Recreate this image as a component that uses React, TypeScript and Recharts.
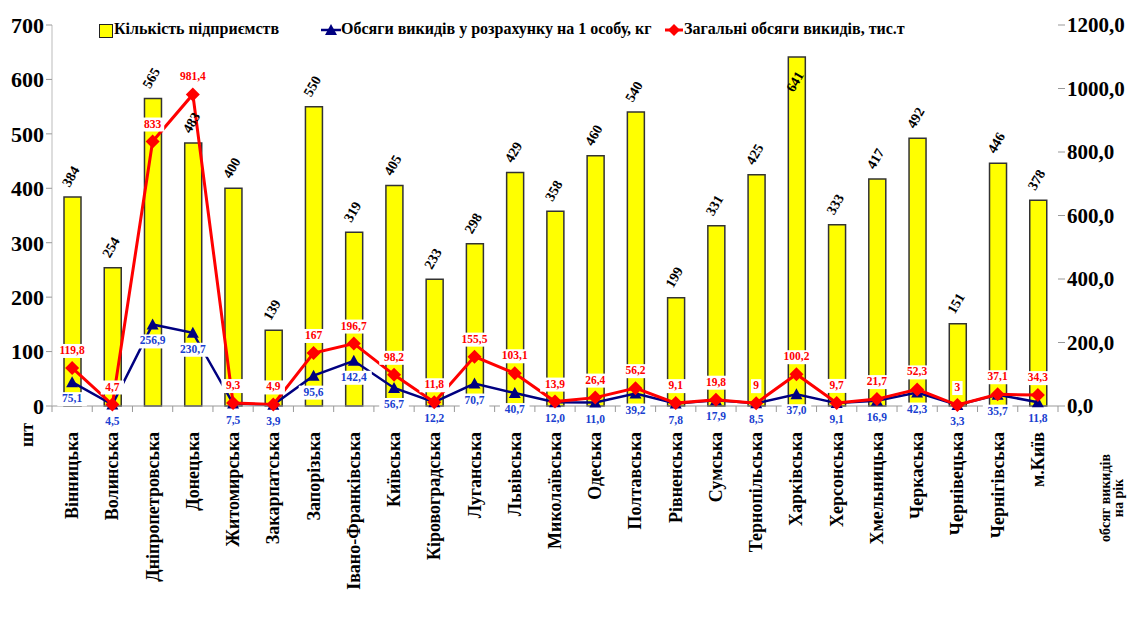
import React from 'react';
import { ComposedChart, Bar, Line, XAxis, YAxis, LabelList } from 'recharts';

const regions = [
  'Вінницька', 'Волинська', 'Дніпропетровська', 'Донецька', 'Житомирська',
  'Закарпатська', 'Запорізька', 'Івано-Франківська', 'Київська', 'Кіровоградська',
  'Луганська', 'Львівська', 'Миколаївська', 'Одеська', 'Полтавська',
  'Рівненська', 'Сумська', 'Тернопільська', 'Харківська', 'Херсонська',
  'Хмельницька', 'Черкаська', 'Чернівецька', 'Чернігівська', 'м.Київ',
];
const enterprises = [384, 254, 565, 483, 400, 139, 550, 319, 405, 233, 298, 429, 358, 460, 540, 199, 331, 425, 641, 333, 417, 492, 151, 446, 378];
const perCapita = [75.1, 4.5, 256.9, 230.7, 7.5, 3.9, 95.6, 142.4, 56.7, 12.2, 70.7, 40.7, 12.0, 11.0, 39.2, 7.8, 17.9, 8.5, 37.0, 9.1, 16.9, 42.3, 3.3, 35.7, 11.8];
const totalEmissions = [119.8, 4.7, 833, 981.4, 9.3, 4.9, 167, 196.7, 98.2, 11.8, 155.5, 103.1, 13.9, 26.4, 56.2, 9.1, 19.8, 9, 100.2, 9.7, 21.7, 52.3, 3, 37.1, 34.3];
const leftTicks = [0, 100, 200, 300, 400, 500, 600, 700];
const rightTicks = [0, 200, 400, 600, 800, 1000, 1200];

const data = regions.map((name, i) => ({
  name,
  enterprises: enterprises[i],
  perCapita: perCapita[i],
  total: totalEmissions[i],
}));

const FONT = '"Liberation Serif", "Times New Roman", serif';
const comma = (v: number) => String(v).replace('.', ',');
const BAND = (1058 - 52) / regions.length;

const Triangle = (props: any) => {
  const { cx, cy } = props;
  if (cx == null || cy == null) return null;
  return <polygon points={`${cx},${cy - 6} ${cx - 6},${cy + 5} ${cx + 6},${cy + 5}`} fill="#000080" />;
};

const Diamond = (props: any) => {
  const { cx, cy } = props;
  if (cx == null || cy == null) return null;
  return <polygon points={`${cx},${cy - 7} ${cx + 7},${cy} ${cx},${cy + 7} ${cx - 7},${cy}`} fill="#ff0000" />;
};

const boxLabel = (color: string, dy: number, fmt: (v: number) => string) => (props: any) => {
  const { x, y, value } = props;
  const txt = fmt(value);
  const w = txt.length * 6.4 + 4;
  return (
    <g>
      <rect x={x - w / 2} y={y + dy - 10} width={w} height={14} fill="#fff" />
      <text x={x} y={y + dy} textAnchor="middle" fill={color} fontSize={11.5} fontWeight="bold" fontFamily={FONT}>
        {txt}
      </text>
    </g>
  );
};

const BarLabel = (props: any) => {
  const { x, y, width, value } = props;
  const cx = x + width / 2;
  // the tallest bar's label sits inside the bar top, as in the original
  const ly = y < 70 ? y + 36 : y - 9;
  return (
    <text
      transform={`translate(${cx - 3},${ly}) rotate(-60)`}
      textAnchor="start"
      fontSize={14}
      fontWeight="bold"
      fontFamily={FONT}
      fill="#000"
    >
      {value}
    </text>
  );
};

const RegionTick = (props: any) => {
  const { x, payload, index } = props;
  const left = x - BAND / 2;
  return (
    <g>
      <line x1={left} y1={406} x2={left} y2={412} stroke="#999" />
      {index === regions.length - 1 && <line x1={left + BAND} y1={406} x2={left + BAND} y2={412} stroke="#999" />}
      <text
        transform={`translate(${x + 6},432) rotate(-90)`}
        textAnchor="end"
        fontSize={18}
        fontWeight="bold"
        fontFamily={FONT}
        fill="#000"
      >
        {payload.value}
      </text>
    </g>
  );
};

const legendText: React.CSSProperties = {
  position: 'absolute',
  top: 20,
  fontFamily: FONT,
  fontWeight: 'bold',
  fontSize: 16,
  color: '#000',
  whiteSpace: 'nowrap',
};

export default function App() {
  return (
    <div style={{ position: 'fixed', left: 0, top: 0, width: 1128, height: 619, background: '#fff' }}>
      <ComposedChart width={1128} height={619} data={data} margin={{ top: 25, right: 0, bottom: 0, left: 0 }}>
        <XAxis
          dataKey="name"
          interval={0}
          height={213}
          tick={<RegionTick />}
          tickLine={false}
          axisLine={{ stroke: '#999' }}
        />
        <YAxis
          yAxisId="left"
          domain={[0, 700]}
          ticks={leftTicks}
          width={52}
          axisLine={{ stroke: '#bbb' }}
          tickLine={{ stroke: '#999' }}
          tickSize={6}
          tick={{ fontSize: 22, fontWeight: 'bold', fontFamily: FONT, fill: '#000' }}
        />
        <YAxis
          yAxisId="right"
          orientation="right"
          domain={[0, 1200]}
          ticks={rightTicks}
          width={70}
          axisLine={false}
          tickLine={{ stroke: '#999' }}
          tickSize={7}
          tickFormatter={(v: number) => v.toFixed(1).replace('.', ',')}
          tick={{ fontSize: 21, fontWeight: 'bold', fontFamily: FONT, fill: '#000' }}
        />
        <Bar yAxisId="left" dataKey="enterprises" barSize={17} fill="#ffff00" stroke="#333" strokeWidth={1.5} isAnimationActive={false}>
          <LabelList dataKey="enterprises" content={<BarLabel />} />
        </Bar>
        <Line
          yAxisId="right"
          dataKey="perCapita"
          stroke="#000080"
          strokeWidth={2.5}
          dot={<Triangle />}
          activeDot={false}
          isAnimationActive={false}
        >
          <LabelList dataKey="perCapita" content={boxLabel('#1a3fd0', 20, (v) => v.toFixed(1).replace('.', ','))} />
        </Line>
        <Line
          yAxisId="right"
          dataKey="total"
          stroke="#ff0000"
          strokeWidth={3}
          dot={<Diamond />}
          activeDot={false}
          isAnimationActive={false}
        >
          <LabelList dataKey="total" content={boxLabel('#ff0000', -14, comma)} />
        </Line>
        <text transform="translate(33,423) rotate(-90)" textAnchor="end" fontSize={18} fontWeight="bold" fontFamily={FONT}>
          шт
        </text>
        <text transform="translate(1110,498) rotate(-90)" textAnchor="middle" fontSize={14} fontWeight="bold" fontFamily={FONT}>
          обсяг викидів
        </text>
        <text transform="translate(1123,498) rotate(-90)" textAnchor="middle" fontSize={14} fontWeight="bold" fontFamily={FONT}>
          на рік
        </text>
      </ComposedChart>

      <div style={{ position: 'absolute', left: 99, top: 24, width: 12, height: 12, background: '#ffff00', border: '1px solid #222' }} />
      <div style={{ ...legendText, left: 114 }}>Кількість підприємств</div>

      <svg style={{ position: 'absolute', left: 320, top: 22 }} width={22} height={16}>
        <line x1={1} y1={8} x2={21} y2={8} stroke="#000080" strokeWidth={2.5} />
        <polygon points="11,2 5,13 17,13" fill="#000080" />
      </svg>
      <div style={{ ...legendText, left: 341 }}>Обсяги викидів у розрахунку на 1 особу, кг</div>

      <svg style={{ position: 'absolute', left: 664, top: 22 }} width={20} height={16}>
        <line x1={1} y1={8} x2={19} y2={8} stroke="#ff0000" strokeWidth={3} />
        <polygon points="10,2 16,8 10,14 4,8" fill="#ff0000" />
      </svg>
      <div style={{ ...legendText, left: 684 }}>Загальні обсяги викидів, тис.т</div>
    </div>
  );
}
